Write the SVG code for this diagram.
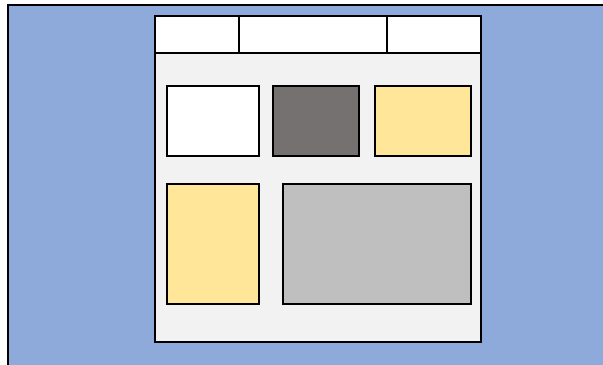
<svg xmlns="http://www.w3.org/2000/svg" width="603" height="365" viewBox="0 0 603 365">
<style>
.b{stroke:#000;stroke-width:2}
.p{stroke:#000;stroke-width:2}
</style>
<rect width="603" height="365" fill="#fff"/>
<g id="background"><rect x="8" y="5" width="600" height="365" fill="#8EAADB" class="p"/></g>
<g id="panel"><rect x="155" y="16" width="326" height="326" fill="#F2F2F2" class="p"/></g>
<g id="header">
<rect x="155" y="16" width="326" height="37" fill="#fff" class="p"/>
<line x1="239" y1="16" x2="239" y2="53" class="p"/>
<line x1="387" y1="16" x2="387" y2="53" class="p"/>
</g>
<g id="box1"><rect x="167" y="86" width="92" height="70" fill="#fff" class="b"/></g>
<g id="box2"><rect x="273" y="86" width="86" height="70" fill="#767171" class="b"/></g>
<g id="box3"><rect x="375" y="86" width="96" height="70" fill="#FFE699" class="b"/></g>
<g id="box4"><rect x="167" y="184" width="92" height="120" fill="#FFE699" class="b"/></g>
<g id="box5"><rect x="283" y="184" width="188" height="120" fill="#BFBFBF" class="b"/></g>
<g id="connectors"></g>
</svg>
